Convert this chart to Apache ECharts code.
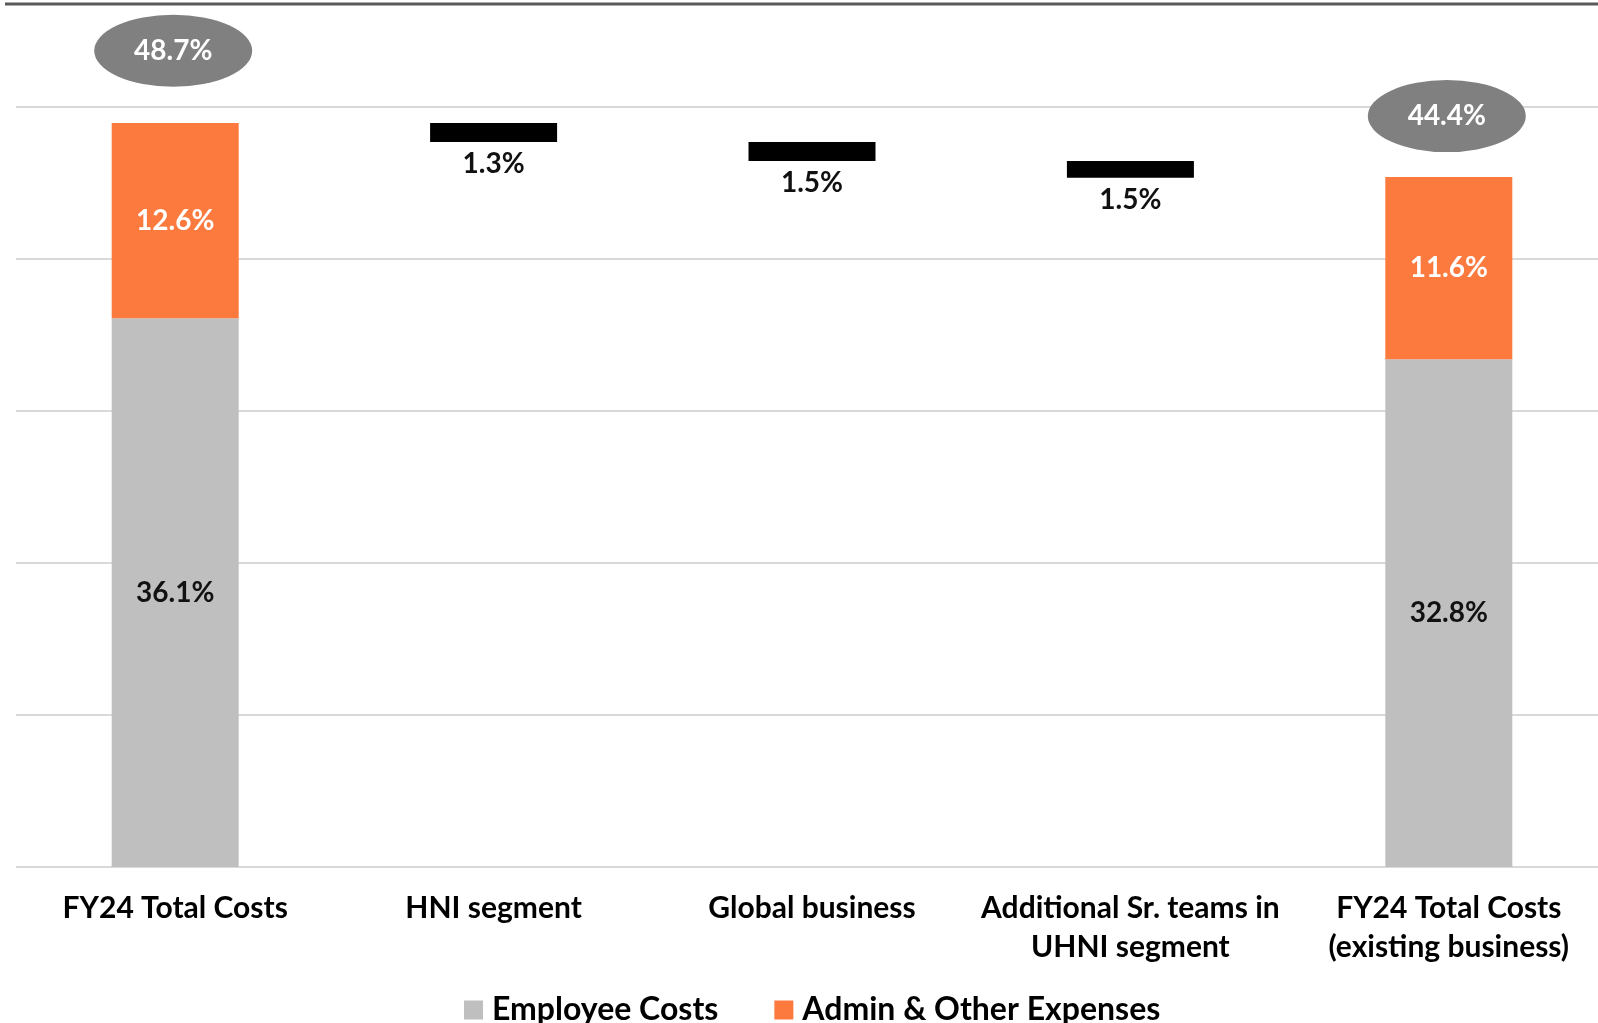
<!DOCTYPE html>
<html>
<head>
<meta charset="utf-8">
<style>
  html, body { margin: 0; padding: 0; background: #fff; }
  #main { width: 1598px; height: 1023px; }
</style>
<script src="https://cdn.jsdelivr.net/npm/echarts@6/dist/echarts.min.js"></script>
</head>
<body>
<div id="main"></div>
<script>
// categories on the x axis
var categories = ['FY24 Total Costs', 'HNI segment', 'Global business',
  'Additional Sr. teams in\nUHNI segment', 'FY24 Total Costs\n(existing business)'];

// numbers printed on the chart (%)
var employeeLabels = [36.1, null, null, null, 32.8];
var adminLabels = [12.6, null, null, null, 11.6];
var stepLabels = [null, 1.3, 1.5, 1.5, null];

// bar heights as drawn in the picture (the drawing does not follow the printed numbers exactly)
var employeeBars = [36.1, null, null, null, 33.4];
var adminBars = [12.85, null, null, null, 12.0];
var stepBars = [null, 1.25, 1.25, 1.1, null];

// axis ticks
var yMin = 0, yMax = 50, yStep = 10;

// waterfall: invisible base under each step, walking down from the first total
var top0 = employeeBars[0] + adminBars[0];
var baseBars = categories.map(function () { return null; });
stepBars.forEach(function (v, i) {
  if (v == null) return;
  top0 = top0 - v;
  baseBars[i] = +top0.toFixed(3);
});

// totals in the grey ovals
var totalPoints = [];
employeeLabels.forEach(function (v, i) {
  if (v == null) return;
  totalPoints.push([i, +(v + adminLabels[i]).toFixed(1)]);
});

function pct(v) { return v.toFixed(1) + '%'; }
function toSeries(arr) { return arr.map(function (v) { return v == null ? '-' : v; }); }

var myChart = echarts.init(document.getElementById('main'));
myChart.setOption({
  animation: false,
  textStyle: { fontFamily: 'Lato' },
  graphic: [{ // dark rule on top of the slide
    type: 'line',
    shape: { x1: 5, y1: 4, x2: 1598, y2: 4 },
    style: { stroke: '#595959', lineWidth: 3 }
  }],
  legend: {
    data: ['Employee Costs', 'Admin & Other Expenses'],
    left: 459,
    top: 989,
    icon: 'rect',
    itemWidth: 19,
    itemHeight: 19,
    itemGap: 56,
    textStyle: { fontSize: 32, fontWeight: 'bold', color: '#000', padding: [0, 0, 0, 4] }
  },
  grid: { left: 16, top: 107, width: 1592, height: 760, outerBoundsMode: 'none', containLabel: false },
  xAxis: {
    type: 'category',
    data: categories,
    axisLine: { show: false },
    axisTick: { show: false },
    axisLabel: {
      interval: 0,
      margin: 22,
      fontSize: 30,
      fontWeight: 'bold',
      lineHeight: 39,
      color: '#000'
    }
  },
  yAxis: {
    type: 'value',
    min: yMin,
    max: yMax,
    interval: yStep,
    axisLabel: { show: false },
    axisLine: { show: false },
    axisTick: { show: false },
    splitLine: { lineStyle: { color: '#d9d9d9', width: 2 } }
  },
  series: [{
    name: 'base',
    type: 'bar',
    stack: 'cost',
    barWidth: 127,
    silent: true,
    itemStyle: { color: 'transparent' },
    data: toSeries(baseBars)
  }, {
    name: 'Employee Costs',
    type: 'bar',
    stack: 'cost',
    barWidth: 127,
    itemStyle: { color: '#bfbfbf' },
    label: {
      show: true,
      position: 'inside',
      fontSize: 28,
      fontWeight: 'bold',
      color: '#111',
      formatter: function (p) { return pct(employeeLabels[p.dataIndex]); }
    },
    data: toSeries(employeeBars)
  }, {
    name: 'Admin & Other Expenses',
    type: 'bar',
    stack: 'cost',
    barWidth: 127,
    itemStyle: { color: '#fd7a3e' },
    label: {
      show: true,
      position: 'inside',
      fontSize: 28,
      fontWeight: 'bold',
      color: '#fff',
      formatter: function (p) { return pct(adminLabels[p.dataIndex]); }
    },
    data: toSeries(adminBars)
  }, {
    name: 'step',
    type: 'bar',
    stack: 'cost',
    barWidth: 127,
    itemStyle: { color: '#000' },
    label: {
      show: true,
      position: 'bottom',
      distance: 8,
      fontSize: 28,
      fontWeight: 'bold',
      color: '#111',
      formatter: function (p) { return pct(stepLabels[p.dataIndex]); }
    },
    data: toSeries(stepBars)
  }, {
    name: 'total',
    type: 'scatter',
    symbol: 'circle',
    symbolSize: [158, 72],
    symbolOffset: [-2, -76],
    itemStyle: { color: '#808080', opacity: 1 },
    label: {
      show: true,
      position: 'inside',
      fontSize: 28,
      fontWeight: 'bold',
      color: '#fff',
      formatter: function (p) { return pct(p.value[1]); }
    },
    data: totalPoints
  }]
});
</script>
</body>
</html>
